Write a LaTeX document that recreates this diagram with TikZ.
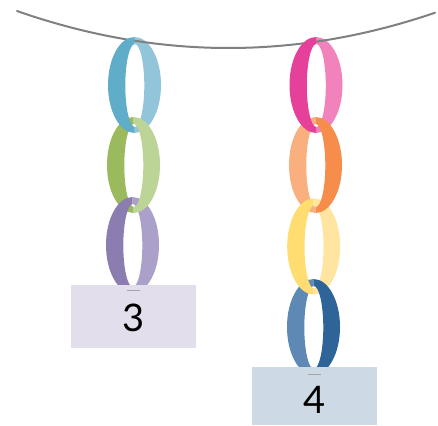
\documentclass[tikz,border=0pt]{standalone}
\usepackage{fontspec}
\setmainfont{Lato}
\definecolor{blueD}{HTML}{5FADC9}
\definecolor{blueL}{HTML}{93C5DA}
\definecolor{greenD}{HTML}{9BBA5E}
\definecolor{greenL}{HTML}{BCD495}
\definecolor{purpD}{HTML}{8B7DB0}
\definecolor{purpL}{HTML}{AAA0C9}
\definecolor{pinkD}{HTML}{E5409A}
\definecolor{pinkL}{HTML}{F282BC}
\definecolor{orgL}{HTML}{FAB07E}
\definecolor{orgD}{HTML}{F78D4B}
\definecolor{yelD}{HTML}{FFDD70}
\definecolor{yelL}{HTML}{FFE59F}
\definecolor{navL}{HTML}{5E89B4}
\definecolor{navD}{HTML}{2F6498}
\definecolor{boxA}{HTML}{E3DEEB}
\definecolor{boxB}{HTML}{CDD9E5}
\definecolor{ropec}{HTML}{808080}
\definecolor{dashc}{HTML}{A6A6A6}
\newcommand\lefthalf[3]{%
  \begin{scope}
    \clip (#1-30,#2-55) rectangle (#1,#2+55);
    \fill[#3,even odd rule] (#1,#2) ellipse [x radius=26.5pt,y radius=48pt]
      (#1+0.3,#2+0.5) ellipse [x radius=9.5pt,y radius=41.5pt];
  \end{scope}}
\newcommand\righthalf[3]{%
  \begin{scope}
    \clip (#1,#2-55) rectangle (#1+30,#2+55);
    \fill[#3,even odd rule] (#1,#2) ellipse [x radius=26.5pt,y radius=48pt]
      (#1+0.3,#2+0.5) ellipse [x radius=9.5pt,y radius=41.5pt];
  \end{scope}}
\begin{document}
\begin{tikzpicture}[x=1pt,y=-1pt,
  rope/.style={draw=ropec,line width=2pt,line cap=round},
  tag/.style={minimum width=125pt,inner sep=0pt,outer sep=0pt},
  num/.style={font=\fontsize{38}{40}\selectfont,text=black,inner sep=0pt},
  tick/.style={draw=dashc,line width=1.8pt}]
\useasboundingbox (0,0) rectangle (438,425);
\fill[white] (0,0) rectangle (438,425);
% first links, front halves behind rope
\righthalf{134.5}{85}{blueL}
\righthalf{316}{85}{pinkL}
% rope
\draw[rope] plot[domain=17:435,samples=80,smooth] (\x,{48-8.27*((\x-228.5)/100)^2});
% left chain
\lefthalf{133.5}{165}{greenD}
\lefthalf{134.5}{85}{blueD}
\lefthalf{132.5}{245}{purpD}
\righthalf{132.5}{245}{purpL}
\righthalf{133.5}{165}{greenL}
% right chain
\lefthalf{315.5}{165}{orgL}
\lefthalf{313.5}{327}{navL}
\lefthalf{316}{85}{pinkD}
\lefthalf{313.7}{246.5}{yelD}
\righthalf{313.7}{246.5}{yelL}
\righthalf{315.5}{165}{orgD}
\righthalf{313.5}{327}{navD}
% tags
\fill[boxA] (71,285) rectangle (196,348);
\fill[boxB] (252,367) rectangle (377,425);
\coordinate (t1a) at (127,290.5);
\coordinate (t1b) at (140,290.5);
\coordinate (t2a) at (308,374.5);
\coordinate (t2b) at (321,374.5);
\draw[tick] (t1a) -- (t1b);
\draw[tick] (t2a) -- (t2b);
\node[num] (n3) at (133.5,318) {3};
\node[num] (n4) at (314.5,400) {4};
\end{tikzpicture}
\end{document}
